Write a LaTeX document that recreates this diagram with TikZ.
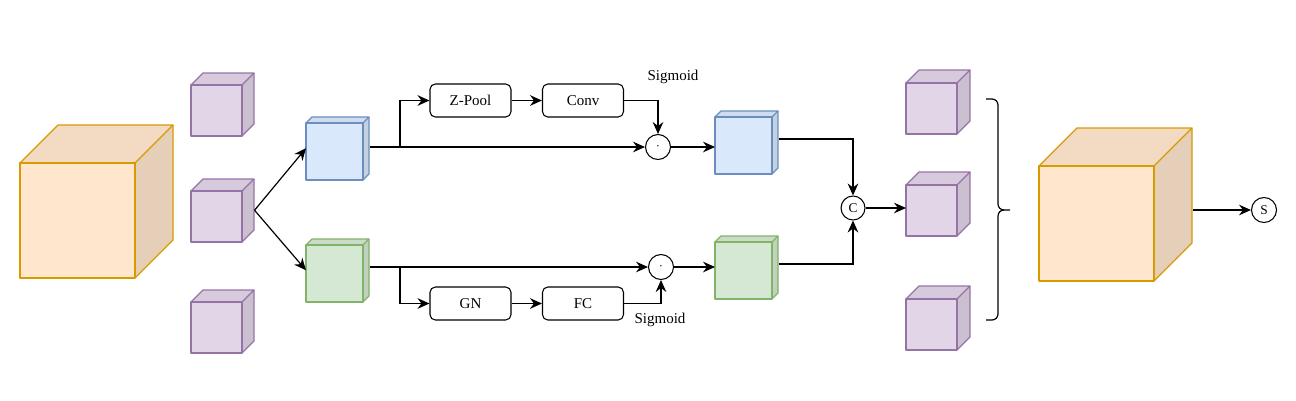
\documentclass[tikz,border=0pt]{standalone}
\usepackage{fontspec}
\setmainfont{Liberation Serif}
\usetikzlibrary{arrows.meta}
\definecolor{orangefill}{RGB}{255,230,204}
\definecolor{orangeline}{RGB}{215,155,0}
\definecolor{purplefill}{RGB}{225,213,231}
\definecolor{purpleline}{RGB}{150,115,166}
\definecolor{bluefill}{RGB}{218,232,252}
\definecolor{blueline}{RGB}{108,142,191}
\definecolor{greenfill}{RGB}{213,232,212}
\definecolor{greenline}{RGB}{130,179,102}
% name, x, y (front top-left corner), front size, depth, colour
\newcommand{\featcube}[6]{%
  \begin{scope}[shift={(#2,#3)}]
    \fill[#6fill] (0,0) rectangle (#4,#4);
    \fill[#6fill!95!black] (0,0) -- (#5,-#5) -- (#4+#5,-#5) -- (#4,0) -- cycle;
    \fill[#6fill!90!black] (#4,0) -- (#4+#5,-#5) -- (#4+#5,#4-#5) -- (#4,#4) -- cycle;
    \draw[#6line, line width=1pt, line join=round] (0,0) rectangle (#4,#4);
    \draw[#6line, line width=1pt, line join=round] (0,0) -- (#5,-#5) -- (#4+#5,-#5) -- (#4,0);
    \draw[#6line, line width=1pt, line join=round] (#4+#5,-#5) -- (#4+#5,#4-#5) -- (#4,#4);
    \node[inner sep=0pt, minimum width={(#4+#5)*0.75pt}, minimum height={(#4+#5)*0.75pt},
          anchor=south west] (#1) at (0,#4) {};
  \end{scope}}

\begin{document}
\begin{tikzpicture}[x=0.75pt, y=-0.75pt,
  arr/.style={line width=0.9pt, -{Stealth[length=9pt,width=8pt,inset=3pt]}},
  opbox/.style={draw, rounded corners=4pt, line width=0.8pt, minimum width=60.75pt,
                minimum height=24.75pt, inner sep=0pt, font={\fontsize{11.25}{13}\selectfont}},
  opcirc/.style={draw, circle, line width=0.8pt, minimum size=18.75pt, inner sep=0pt,
                 font={\fontsize{10}{12}\selectfont}},
  lbl/.style={font={\fontsize{11.25}{13}\selectfont}},
]
\useasboundingbox (0,0) rectangle (1296,400);

% ---- Cubes ----
\featcube{lc}{20}{163}{115}{38}{orange}      % input
\featcube{pl1}{191}{85}{51}{12}{purple}
\featcube{pl2}{191}{191}{51}{12}{purple}
\featcube{pl3}{191}{302}{51}{12}{purple}
\featcube{blue}{306}{123}{57}{6}{blue}
\featcube{green}{306}{245}{57}{6}{green}
\featcube{blue2}{715}{117}{57}{6}{blue}
\featcube{green2}{715}{242}{57}{6}{green}
\featcube{pr1}{906}{83}{51}{13}{purple}
\featcube{pr2}{906}{185}{51}{13}{purple}
\featcube{pr3}{906}{299}{51}{13}{purple}
\featcube{rc}{1039}{166}{115}{38}{orange}    % output

% ---- Operations ----
\node[opbox] (zpool) at (470.5,100.5) {Z-Pool};
\node[opbox] (conv)  at (583,100.5)   {Conv};
\node[opbox] (gn)    at (470.5,303.5) {GN};
\node[opbox] (fc)    at (583,303.5)   {FC};
\node[opcirc] (mul1) at (658,147) {$\cdot$};
\node[opcirc] (mul2) at (661,267) {$\cdot$};
\node[opcirc, minimum size=18pt] (cat) at (853,208) {C};
\node[opcirc] (outs) at (1264,210) {S};
\node[lbl] (sigtop) at (673,77)  {Sigmoid};
\node[lbl] (sigbot) at (660,320) {Sigmoid};
\coordinate (br1) at (400,147);
\coordinate (br2) at (400,267);

% ---- Connectors ----
\draw[arr] (pl2.east) -- (blue.west);
\draw[arr] (pl2.east) -- (green.west);
\draw[arr] (blue.east |- mul1) -- (mul1);
\draw[arr] (br1) |- (zpool);
\draw[arr] (zpool) -- (conv);
\draw[arr] (conv) -| (mul1);
\draw[arr] (green.east |- mul2) -- (mul2);
\draw[arr] (br2) |- (gn);
\draw[arr] (gn) -- (fc);
\draw[arr] (fc) -| (mul2);
\draw[arr] (mul1) -- (mul1 -| blue2.west);
\draw[arr] (mul2) -- (mul2 -| green2.west);
\draw[arr] ([yshift=2.5pt]blue2.east) -| (cat);
\draw[arr] ([yshift=2.5pt]green2.east) -| (cat);
\draw[arr] (cat) -- (cat -| pr2.west);
\draw[arr] (rc.east |- outs) -- (outs);

% ---- Brace ----
\draw[line width=0.9pt] (986,99) -- (992,99) to[out=0,in=90] (998,105) -- (998,204)
  to[out=270,in=180] (1004,210) -- (1010,210);
\draw[line width=0.9pt] (1004,210) to[out=180,in=90] (998,216) -- (998,314)
  to[out=270,in=0] (992,320) -- (986,320);
\end{tikzpicture}
\end{document}
